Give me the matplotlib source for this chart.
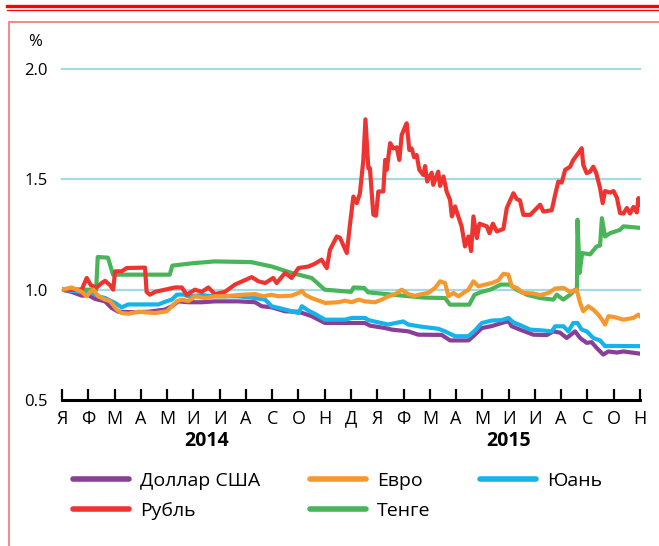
import matplotlib
matplotlib.use('Agg')
import matplotlib.pyplot as plt
from matplotlib.lines import Line2D
from matplotlib.patches import Rectangle

plt.rcParams['font.family'] = ['Open Sans', 'DejaVu Sans']

# x in months since Jan 2014
month_labels = ['Я', 'Ф', 'М', 'А', 'М', 'И', 'И', 'А', 'С', 'О', 'Н', 'Д',
                'Я', 'Ф', 'М', 'А', 'М', 'И', 'И', 'А', 'С', 'О', 'Н']
years = ['2014', '2015']
year_pos = [5.5, 17]

usd_m = [0, 0.37, 0.75, 1.0, 1.26, 1.64, 1.89, 2.15, 2.65, 3.29,
         3.92, 4.18, 4.43, 4.81, 5.32, 5.82, 6.71, 7.35, 7.6, 7.98,
         8.49, 9.0, 9.5, 10.01, 11.15, 11.53, 11.72, 12.3, 12.55, 13.18,
         13.56, 14.45, 14.77, 15.47, 15.72, 15.98, 16.36, 16.74, 16.99, 17.12,
         17.43, 17.94, 18.45, 18.7, 18.96, 19.21, 19.53, 19.72, 19.97, 20.16,
         20.35, 20.6, 20.8, 21.12, 21.37, 22.0]
usd_v = [1.0, 0.99, 0.973, 0.975, 0.958, 0.947, 0.917, 0.9, 0.898, 0.9,
         0.91, 0.925, 0.947, 0.943, 0.943, 0.947, 0.947, 0.943, 0.925, 0.92,
         0.902, 0.9, 0.88, 0.849, 0.849, 0.849, 0.837, 0.826, 0.819, 0.811,
         0.796, 0.795, 0.77, 0.77, 0.796, 0.826, 0.835, 0.849, 0.857, 0.834,
         0.819, 0.796, 0.794, 0.811, 0.805, 0.781, 0.811, 0.781, 0.759, 0.762,
         0.736, 0.706, 0.72, 0.715, 0.72, 0.71]

cny_m = [0, 0.75, 1.07, 1.38, 1.64, 2.02, 2.27, 2.52, 3.03, 3.67,
         3.92, 4.18, 4.37, 4.62, 4.81, 5.32, 5.82, 6.71, 7.35, 7.73,
         7.98, 8.49, 9.0, 9.13, 9.38, 9.63, 10.01, 10.77, 11.03, 11.53,
         11.66, 12.42, 12.99, 13.18, 13.69, 14.32, 14.58, 14.96, 15.47, 15.72,
         15.98, 16.36, 16.74, 16.99, 17.18, 17.43, 17.82, 18.32, 18.64, 18.77,
         19.09, 19.27, 19.46, 19.62, 19.78, 19.97, 20.22, 20.48, 20.67, 20.86,
         22.0]
cny_v = [1.0, 0.99, 0.99, 0.97, 0.962, 0.94, 0.92, 0.933, 0.933, 0.933,
         0.945, 0.955, 0.977, 0.978, 0.97, 0.975, 0.97, 0.97, 0.962, 0.955,
         0.925, 0.91, 0.894, 0.925, 0.905, 0.89, 0.864, 0.864, 0.872, 0.872,
         0.862, 0.842, 0.856, 0.842, 0.832, 0.823, 0.811, 0.789, 0.789, 0.815,
         0.849, 0.86, 0.862, 0.872, 0.852, 0.84, 0.819, 0.815, 0.811, 0.834,
         0.834, 0.811, 0.849, 0.849, 0.819, 0.811, 0.781, 0.77, 0.744, 0.745,
         0.744]

kzt_m = [0, 1.3, 1.36, 1.75, 1.94, 4.1, 4.2, 5.0, 5.8, 7.2,
         7.98, 8.74, 9.5, 10.0, 11.0, 11.1, 11.5, 11.65, 12.6, 13.8,
         14.58, 14.77, 15.5, 15.7, 15.97, 16.3, 16.7, 17.05, 17.3, 17.7,
         18.2, 18.7, 18.83, 19.08, 19.34, 19.53, 19.6, 19.62, 19.7, 19.8,
         20.1, 20.35, 20.48, 20.55, 20.67, 20.86, 21.24, 21.37, 22.0]
kzt_v = [1.0, 1.0, 1.148, 1.145, 1.068, 1.068, 1.109, 1.12, 1.128, 1.125,
         1.105, 1.076, 1.053, 1.0, 0.99, 1.01, 1.008, 0.988, 0.977, 0.964,
         0.962, 0.932, 0.932, 0.977, 0.99, 1.0, 1.023, 1.023, 1.0, 0.977,
         0.962, 0.955, 0.977, 0.955, 0.977, 1.0, 0.99, 1.317, 1.076, 1.166,
         1.16, 1.196, 1.2, 1.324, 1.241, 1.256, 1.271, 1.287, 1.28]

rub_m = [0, 0.75, 0.94, 1.1, 1.32, 1.51, 1.64, 1.83, 1.95, 2.02,
         2.27, 2.46, 3.16, 3.22, 3.35, 3.54, 3.92, 4.3, 4.56, 4.75,
         5.06, 5.32, 5.57, 5.82, 6.2, 6.58, 7.22, 7.47, 7.73, 8.04,
         8.17, 8.49, 8.74, 9.0, 9.38, 9.63, 9.88, 10.08, 10.2, 10.46,
         10.58, 10.84, 10.96, 11.09, 11.22, 11.34, 11.47, 11.55, 11.66, 11.72,
         11.85, 11.95, 12.04, 12.23, 12.3, 12.36, 12.49, 12.61, 12.74, 12.84,
         12.93, 13.06, 13.12, 13.22, 13.31, 13.4, 13.5, 13.6, 13.75, 13.82,
         13.9, 14.07, 14.13, 14.32, 14.39, 14.52, 14.64, 14.77, 14.84, 14.96,
         15.09, 15.21, 15.34, 15.47, 15.57, 15.66, 15.79, 15.89, 16.17, 16.27,
         16.4, 16.55, 16.8, 16.93, 17.18, 17.31, 17.43, 17.56, 17.82, 18.2,
         18.32, 18.64, 18.77, 18.89, 19.02, 19.15, 19.34, 19.46, 19.65, 19.78,
         19.84, 19.97, 20.1, 20.22, 20.33, 20.48, 20.58, 20.67, 20.86, 20.99,
         21.12, 21.24, 21.37, 21.5, 21.62, 21.75, 21.88, 21.94, 22.0]
rub_v = [1.0, 1.0, 1.053, 1.02, 1.01, 1.03, 1.04, 1.02, 1.0, 1.083,
         1.083, 1.098, 1.1, 0.99, 0.977, 0.99, 1.0, 1.01, 1.01, 0.977,
         1.0, 0.99, 1.01, 0.98, 0.99, 1.023, 1.057, 1.038, 1.03, 1.053,
         1.03, 1.076, 1.053, 1.098, 1.105, 1.118, 1.136, 1.098, 1.181, 1.241,
         1.235, 1.166, 1.294, 1.422, 1.392, 1.437, 1.588, 1.772, 1.55, 1.55,
         1.34, 1.335, 1.445, 1.445, 1.588, 1.543, 1.664, 1.64, 1.645, 1.588,
         1.701, 1.739, 1.754, 1.633, 1.64, 1.60, 1.61, 1.543, 1.52, 1.56,
         1.49, 1.53, 1.475, 1.535, 1.47, 1.513, 1.445, 1.407, 1.332, 1.377,
         1.33, 1.287, 1.196, 1.241, 1.175, 1.332, 1.234, 1.299, 1.287, 1.256,
         1.299, 1.264, 1.275, 1.37, 1.437, 1.41, 1.405, 1.339, 1.339, 1.385,
         1.354, 1.36, 1.43, 1.49, 1.485, 1.543, 1.557, 1.588, 1.618, 1.641,
         1.566, 1.528, 1.535, 1.557, 1.53, 1.46, 1.392, 1.447, 1.44, 1.447,
         1.417, 1.347, 1.345, 1.37, 1.345, 1.375, 1.35, 1.415, 1.385]

eur_m = [0, 0.37, 0.75, 0.94, 1.07, 1.19, 1.38, 1.64, 1.83, 2.08,
         2.27, 2.52, 2.9, 3.54, 3.99, 4.18, 4.37, 4.56, 4.81, 5.06,
         5.44, 5.82, 6.2, 6.84, 7.35, 7.66, 7.98, 8.23, 8.74, 9.0,
         9.13, 9.25, 9.5, 10.01, 10.52, 10.77, 11.03, 11.28, 11.53, 11.91,
         12.17, 12.42, 12.68, 12.93, 13.18, 13.43, 13.69, 13.94, 14.2, 14.39,
         14.58, 14.71, 14.9, 15.09, 15.28, 15.47, 15.66, 15.85, 16.1, 16.36,
         16.61, 16.8, 16.99, 17.12, 17.31, 17.56, 17.94, 18.2, 18.51, 18.77,
         19.09, 19.34, 19.59, 19.72, 19.84, 20.03, 20.22, 20.41, 20.55, 20.67,
         20.8, 21.05, 21.37, 21.75, 21.94, 22.0]
eur_v = [1.0, 1.01, 0.99, 0.97, 0.99, 1.0, 0.97, 0.955, 0.948, 0.91,
         0.894, 0.891, 0.9, 0.894, 0.902, 0.925, 0.947, 0.955, 0.948, 0.97,
         0.962, 0.97, 0.97, 0.977, 0.98, 0.97, 0.977, 0.97, 0.973, 0.985,
         0.995, 0.977, 0.962, 0.94, 0.943, 0.95, 0.943, 0.955, 0.947, 0.943,
         0.955, 0.97, 0.98, 1.0, 0.98, 0.972, 0.98, 0.985, 1.008, 1.038,
         1.03, 0.97, 0.985, 0.97, 0.985, 1.0, 1.038, 1.015, 1.023, 1.03,
         1.042, 1.072, 1.068, 1.015, 1.008, 0.985, 0.983, 0.975, 0.985, 1.005,
         1.008, 0.99, 1.0, 0.94, 0.902, 0.925, 0.91, 0.887, 0.865, 0.842,
         0.88, 0.875, 0.864, 0.872, 0.887, 0.88]


def main():
    fig = plt.figure(figsize=(6.59, 5.46), dpi=100)
    ax = fig.add_axes([62 / 659, 1 - 400 / 546, 578 / 659, 331 / 546])

    # decoration: red rules on top and the light red frame
    fig.add_artist(Line2D([7 / 659, 1], [1 - 6 / 546] * 2, color='#ff0000', lw=2.4))
    fig.add_artist(Line2D([7 / 659, 1], [1 - 10 / 546] * 2, color='#ff0000', lw=0.9))
    fig.add_artist(Rectangle((9 / 659, -0.05), 1.0, 1.05 - 22 / 546,
                             fill=False, ec='#f47f7f', lw=1.3))

    ax.set_xlim(0, 22)
    ax.set_ylim(0.5, 2.0)
    for g in [1.0, 1.5, 2.0]:
        ax.axhline(g, color='#a3dbe4', lw=1.6, zorder=0, clip_on=False)

    lw = 3.0
    ax.plot(usd_m, usd_v, color='#8a3f97', lw=lw, label='Доллар США', zorder=2)
    ax.plot(rub_m, rub_v, color='#ee3430', lw=lw, label='Рубль', zorder=4)
    ax.plot(eur_m, eur_v, color='#f7982f', lw=lw, label='Евро', zorder=5)
    ax.plot(kzt_m, kzt_v, color='#48b558', lw=lw, label='Тенге', zorder=3)
    ax.plot(cny_m, cny_v, color='#15b3ea', lw=lw, label='Юань', zorder=2.5)

    for s in ['top', 'right', 'left']:
        ax.spines[s].set_visible(False)
    ax.spines['bottom'].set_linewidth(2.2)
    ax.spines['bottom'].set_color('black')

    ax.set_xticks(range(len(month_labels)))
    ax.set_xticklabels(month_labels, fontsize=13)
    ax.tick_params(axis='x', direction='in', length=8, width=1.6, pad=7)
    ax.set_yticks([0.5, 1.0, 1.5, 2.0])
    ax.set_yticklabels(['0.5', '1.0', '1.5', '2.0'], fontsize=12)
    ax.tick_params(axis='y', length=0, pad=10)

    for yr, pos in zip(years, year_pos):
        ax.text(pos, -0.124, yr, transform=ax.get_xaxis_transform(),
                ha='center', va='center', fontsize=14, fontweight='bold')
    fig.text(35 / 659, 1 - 42 / 546, '%', ha='center', va='center', fontsize=12)

    leg = fig.legend(loc='upper left', bbox_to_anchor=(73 / 659, 1 - 472 / 546),
                     ncol=3, frameon=False, fontsize=14, handlelength=2.9,
                     handletextpad=0.55, columnspacing=2.55, labelspacing=0.6,
                     borderpad=0, borderaxespad=0)
    for h in leg.legend_handles:
        h.set_linewidth(4)
        h.set_solid_capstyle('round')

    fig.savefig('out.png', dpi=100)


if __name__ == '__main__':
    main()
